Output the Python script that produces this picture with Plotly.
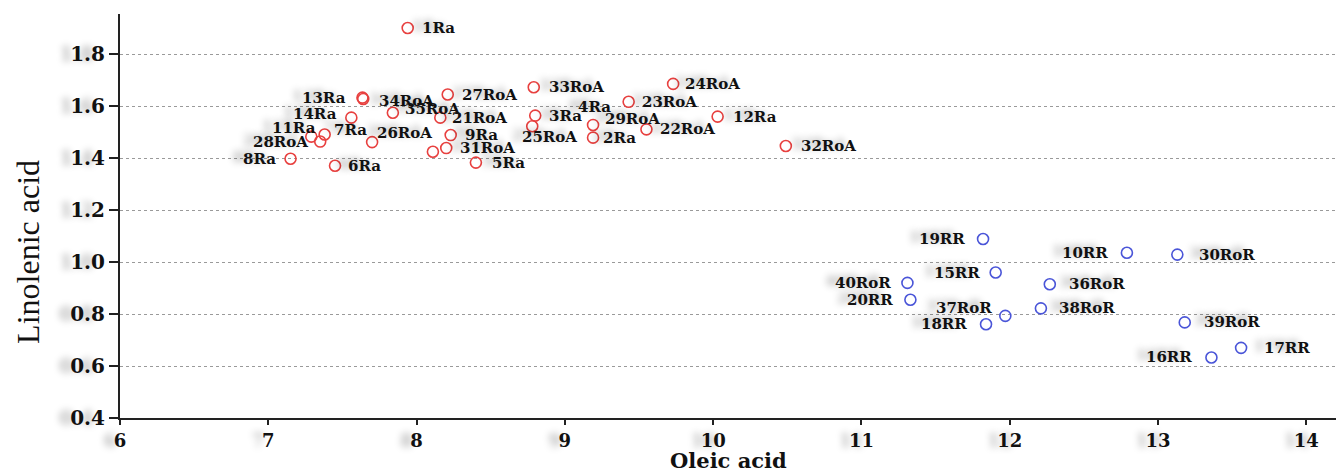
import plotly.graph_objects as go

# ---- data ----
red_labels = ["1Ra", "2Ra", "3Ra", "4Ra", "5Ra", "6Ra", "7Ra", "8Ra", "9Ra",
              "11Ra", "12Ra", "13Ra", "14Ra",
              "21RoA", "22RoA", "23RoA", "24RoA", "25RoA", "26RoA", "27RoA",
              "28RoA", "29RoA", "31RoA", "32RoA", "33RoA", "34RoA", "35RoA"]
red_oleic = [7.94, 9.19, 8.80, 8.78, 8.40, 7.45, 7.38, 7.15, 8.23,
             7.29, 10.03, 7.635, 7.56,
             8.16, 9.55, 9.43, 9.73, 8.11, 7.70, 8.21,
             7.35, 9.19, 8.20, 10.49, 8.79, 7.64, 7.84]
red_linolenic = [1.901, 1.479, 1.564, 1.523, 1.383, 1.371, 1.491, 1.398, 1.489,
                 1.483, 1.560, 1.633, 1.556,
                 1.556, 1.511, 1.617, 1.686, 1.425, 1.462, 1.645,
                 1.464, 1.528, 1.439, 1.447, 1.673, 1.628, 1.575]

blue_labels = ["10RR", "15RR", "16RR", "17RR", "18RR", "19RR", "20RR",
               "30RoR", "36RoR", "37RoR", "38RoR", "39RoR", "40RoR"]
blue_oleic = [12.79, 11.905, 13.36, 13.56, 11.84, 11.82, 11.33,
              13.13, 12.27, 11.97, 12.21, 13.18, 11.31]
blue_linolenic = [1.036, 0.960, 0.633, 0.670, 0.761, 1.089, 0.855,
                  1.029, 0.915, 0.793, 0.822, 0.768, 0.920]

x_title = "Oleic acid"
y_title = "Linolenic acid"

# ---- label placement (style): side, horizontal gap px, vertical offset px (down +) ----
red_label_side = ["r", "r", "r", "r", "r", "r", "r", "l", "r",
                  "l", "r", "l", "l",
                  "r", "r", "r", "r", "r", "r", "r",
                  "l", "r", "r", "r", "r", "r", "r"]
red_label_dx = [12, 8, 12, 44, 14, 11, 7, 13, 12,
                -7, 13, 14, 12,
                10, 12, 11, 10, 87, 3, 12,
                10, 10, 12, 13, 13, 14, 10]
red_label_dy = [0, 0, 0, -19, 0, 0, -5, 0, 0,
                -9, 0, 0, -4,
                0, 0, 0, 0, -15, -9, 0,
                0, -6, 0, 0, 0, 2, -4]

blue_label_side = ["l", "l", "l", "r", "l", "l", "l", "r", "r", "l", "r", "r", "l"]
blue_label_dx = [17, 14, 17, 21, 17, 16, 15, 20, 17, 11, 16, 17, 14]
blue_label_dy = [0, 0, 0, 0, 0, 0, 0, 0, 0, -8, 0, 0, 0]

RED = "#e8403f"
BLUE = "#4a55d8"
LABEL_FONT = dict(family="DejaVu Serif", size=15, color="#111111", weight="bold",
                  shadow="-10px -2px 7px rgba(0,0,0,0.30)")
Y_TICK_FONT = dict(family="DejaVu Serif", size=20, color="#111111", weight="bold",
                   shadow="-11px 0px 7px rgba(0,0,0,0.28)")
X_TICK_FONT = dict(family="DejaVu Serif", size=18, color="#111111", weight="bold",
                   shadow="-10px 0px 7px rgba(0,0,0,0.28)")

fig = go.Figure()
fig.add_trace(go.Scatter(x=red_oleic, y=red_linolenic, mode="markers",
                         marker=dict(symbol="circle-open", size=11, color=RED,
                                     line=dict(width=1.6, color=RED)),
                         hovertext=red_labels, showlegend=False))
fig.add_trace(go.Scatter(x=blue_oleic, y=blue_linolenic, mode="markers",
                         marker=dict(symbol="circle-open", size=11, color=BLUE,
                                     line=dict(width=1.6, color=BLUE)),
                         hovertext=blue_labels, showlegend=False))

annotations = []
for labs, xs, ys, sides, dxs, dys in [
        (red_labels, red_oleic, red_linolenic, red_label_side, red_label_dx, red_label_dy),
        (blue_labels, blue_oleic, blue_linolenic, blue_label_side, blue_label_dx, blue_label_dy)]:
    for lab, x, y, s, dx, dy in zip(labs, xs, ys, sides, dxs, dys):
        annotations.append(dict(
            x=x, y=y, xref="x", yref="y", text=lab, showarrow=False,
            xanchor="left" if s == "r" else "right", yanchor="middle",
            xshift=dx if s == "r" else -dx, yshift=-dy, font=LABEL_FONT))

annotations.append(dict(text=x_title, xref="paper", yref="paper", x=0.5, y=-0.104,
                        xanchor="center", yanchor="middle", showarrow=False,
                        font=dict(family="DejaVu Serif", size=21, color="#111111", weight="bold")))
annotations.append(dict(text=y_title, xref="paper", yref="paper", x=-0.0757, y=0.411,
                        xanchor="center", yanchor="middle", showarrow=False, textangle=-90,
                        font=dict(family="Liberation Serif", size=32, color="#111111")))

fig.update_layout(
    width=1336, height=468,
    margin=dict(l=120, r=0, t=14, b=50),
    paper_bgcolor="white", plot_bgcolor="white",
    annotations=annotations,
    showlegend=False,
)
fig.update_xaxes(range=[6, 14.2], tick0=6, dtick=1, showgrid=False, zeroline=False,
                 showline=True, linecolor="#222222", linewidth=2,
                 ticks="outside", ticklen=5, tickwidth=1.5, tickcolor="#222222",
                 tickfont=X_TICK_FONT)
fig.update_yaxes(range=[0.4, 1.955], tick0=0.4, dtick=0.2, tickformat=".1f",
                 showgrid=True, gridcolor="#9a9a9a", griddash="dot", gridwidth=1,
                 zeroline=False, showline=True, linecolor="#222222", linewidth=2,
                 ticks="outside", ticklen=9, tickwidth=1.5, tickcolor="#222222",
                 tickfont=Y_TICK_FONT)

fig.write_html("out.html", config={"displayModeBar": False},
               post_script="document.body.style.margin='0';document.body.style.overflow='hidden';")
